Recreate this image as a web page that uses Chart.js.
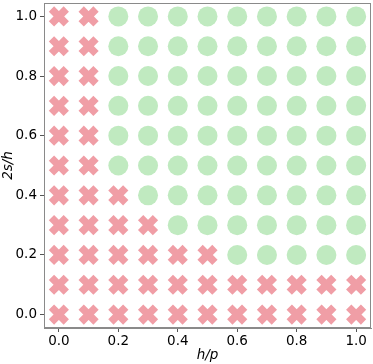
<!DOCTYPE html>
<html>
<head>
<meta charset="utf-8">
<script src="https://cdn.jsdelivr.net/npm/chart.js@4/dist/chart.umd.min.js"></script>
<style>
  html, body { margin: 0; padding: 0; background: #fff; }
  #wrap { width: 373px; height: 364px; }
</style>
</head>
<body>
<div id="wrap"><canvas id="gridChart"></canvas></div>
<script>
// grid values
const hpValues = [0.0, 0.1, 0.2, 0.3, 0.4, 0.5, 0.6, 0.7, 0.8, 0.9, 1.0];
const sValues = [0.0, 0.1, 0.2, 0.3, 0.4, 0.5, 0.6, 0.7, 0.8, 0.9, 1.0];
// 1 = stable (circle), 0 = failed (cross); one row per 2s/h value, bottom to top
const outcome = [
  [0, 0, 0, 0, 0, 0, 0, 0, 0, 0, 0],
  [0, 0, 0, 0, 0, 0, 0, 0, 0, 0, 0],
  [0, 0, 0, 0, 0, 0, 1, 1, 1, 1, 1],
  [0, 0, 0, 0, 1, 1, 1, 1, 1, 1, 1],
  [0, 0, 0, 1, 1, 1, 1, 1, 1, 1, 1],
  [0, 0, 1, 1, 1, 1, 1, 1, 1, 1, 1],
  [0, 0, 1, 1, 1, 1, 1, 1, 1, 1, 1],
  [0, 0, 1, 1, 1, 1, 1, 1, 1, 1, 1],
  [0, 0, 1, 1, 1, 1, 1, 1, 1, 1, 1],
  [0, 0, 1, 1, 1, 1, 1, 1, 1, 1, 1],
  [0, 0, 1, 1, 1, 1, 1, 1, 1, 1, 1]
];
const tickValues = [0.0, 0.2, 0.4, 0.6, 0.8, 1.0];

const okPoints = [];
const failPoints = [];
sValues.forEach((s, i) => {
  hpValues.forEach((hp, j) => {
    if (outcome[i][j]) okPoints.push({ x: hp, y: s });
    else failPoints.push({ x: hp, y: s });
  });
});

const tickFont = { family: 'DejaVu Sans', size: 13.5 };
const titleFont = { family: 'DejaVu Sans', size: 13.5, style: 'italic' };

// draw the top and right spines too
const frame = {
  id: 'frame',
  afterDraw(chart) {
    const a = chart.chartArea;
    const ctx = chart.ctx;
    ctx.save();
    ctx.strokeStyle = '#8a8a8a';
    ctx.lineWidth = 1;
    ctx.strokeRect(a.left + 0.5, a.top + 0.5, a.right - a.left - 1, a.bottom - a.top - 1);
    ctx.restore();
  }
};

new Chart(document.getElementById('gridChart').getContext('2d'), {
  type: 'scatter',
  data: {
    datasets: [{
      label: 'stable',
      data: okPoints,
      pointStyle: 'circle',
      pointRadius: 10,
      pointHoverRadius: 10,
      backgroundColor: 'rgb(192, 234, 192)',
      borderWidth: 0
    }, {
      label: 'failed',
      data: failPoints,
      pointStyle: 'crossRot',
      pointRadius: 10.5,
      pointHoverRadius: 10.5,
      borderColor: 'rgb(240, 158, 166)',
      borderWidth: 7.5
    }]
  },
  options: {
    responsive: true,
    maintainAspectRatio: false,
    animation: false,
    layout: { autoPadding: false, padding: { top: 3, right: 2, left: 0, bottom: 0 } },
    plugins: {
      legend: { display: false },
      tooltip: { enabled: false }
    },
    scales: {
      x: {
        type: 'linear',
        min: -0.05,
        max: 1.05,
        afterBuildTicks: (axis) => { axis.ticks = tickValues.map(v => ({ value: v })); },
        afterFit: (axis) => { axis.height = 36; axis.paddingLeft = 0; axis.paddingRight = 0; },
        ticks: {
          color: '#000',
          font: tickFont,
          padding: 1,
          maxRotation: 0,
          callback: (v) => Number(v).toFixed(1)
        },
        grid: { drawOnChartArea: false, drawTicks: true, tickLength: 4, color: '#555' },
        border: { display: true, color: '#8a8a8a' },
        title: { display: true, text: 'h/p', color: '#000', font: titleFont, padding: { top: 0, bottom: 0 } }
      },
      y: {
        type: 'linear',
        min: -0.045,
        max: 1.045,
        afterBuildTicks: (axis) => { axis.ticks = tickValues.map(v => ({ value: v })); },
        afterFit: (axis) => { axis.width = 44; axis.paddingTop = 0; axis.paddingBottom = 0; },
        ticks: {
          color: '#000',
          font: tickFont,
          padding: 3,
          callback: (v) => Number(v).toFixed(1)
        },
        grid: { drawOnChartArea: false, drawTicks: true, tickLength: 4, color: '#555' },
        border: { display: true, color: '#8a8a8a' },
        title: { display: true, text: '2s/h', color: '#000', font: titleFont, padding: { top: 0, bottom: 0 } }
      }
    }
  },
  plugins: [frame]
});
</script>
</body>
</html>
